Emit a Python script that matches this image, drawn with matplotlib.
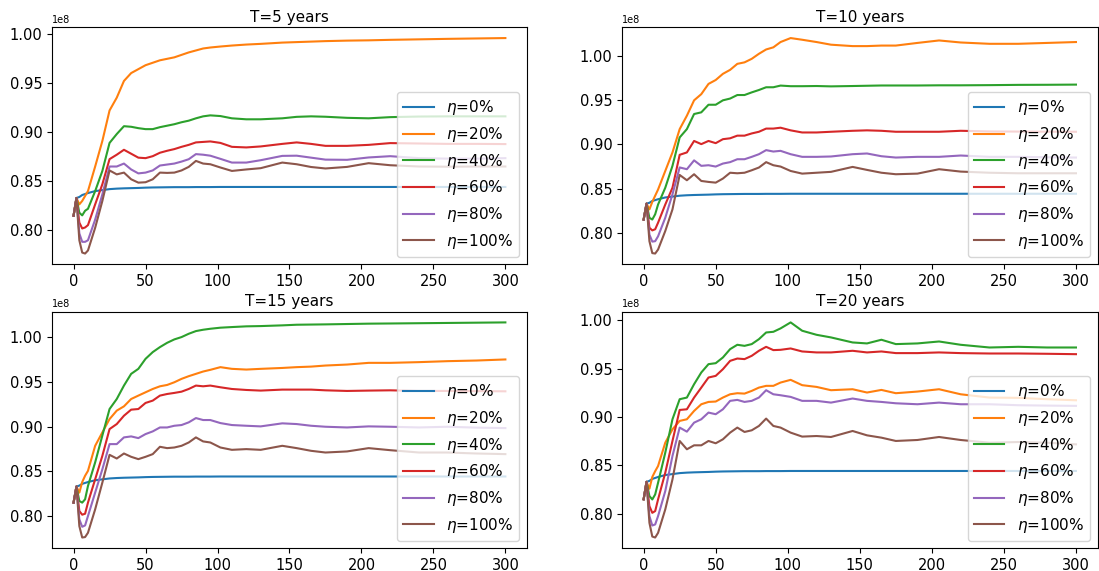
import matplotlib
matplotlib.use("Agg")
import matplotlib.pyplot as plt
import numpy as np

# time steps (shared by all panels)
steps = [0, 2, 4, 6, 8, 10, 15, 20, 25, 30, 35, 40, 45, 50, 55, 60, 65, 70, 75, 80,
         85, 90, 95, 102, 110, 120, 130, 145, 155, 165, 175, 190, 205, 220, 240, 260, 280, 300]

labels = [r'$\eta$=0%', r'$\eta$=20%', r'$\eta$=40%', r'$\eta$=60%', r'$\eta$=80%', r'$\eta$=100%']
titles = ['T=5 years', 'T=10 years', 'T=15 years', 'T=20 years']

# eta=0% is the same in every panel (values in units of 1e8)
eta0 = [.815, .833, .834, .836, .837, .838, .840, .841, .842, .8425, .8428, .843, .8432, .8435, .8437, .8438,
        .8439, .844, .844, .844, .8441, .8441, .8441, .8442, .8442, .8442, .8442, .8442, .8442, .8442, .8442,
        .8442, .8442, .8442, .8442, .8442, .8442, .8442]

# T=5 years
t5_eta20 = [.815, .833, .8265, .830, .835, .840, .865, .891, .922, .935, .952, .960, .964, .968, .9705, .973,
            .9745, .976, .9785, .981, .983, .985, .986, .987, .988, .989, .9897, .991, .9915, .992, .9925,
            .993, .9933, .9938, .9943, .9948, .9952, .9956]
t5_eta40 = [.815, .833, .818, .8153, .820, .822, .840, .8605, .889, .898, .906, .9054, .904, .903, .903, .905,
            .9065, .908, .910, .9116, .914, .916, .917, .9163, .914, .913, .913, .914, .9155, .916, .9156,
            .9145, .914, .9152, .9158, .916, .916, .916]
t5_eta60 = [.815, .833, .808, .802, .803, .8054, .8265, .847, .8725, .877, .882, .878, .874, .8735, .8755, .879,
            .881, .8827, .885, .887, .8895, .890, .8905, .889, .885, .8844, .8854, .888, .8895, .888, .886,
            .886, .887, .8888, .8884, .888, .888, .8878]
t5_eta80 = [.815, .833, .797, .7884, .7884, .790, .811, .8367, .865, .865, .868, .862, .858, .8588, .861, .866,
            .867, .868, .870, .8724, .8776, .877, .876, .8728, .869, .869, .8714, .8758, .876, .874, .872,
            .8718, .8742, .8755, .8735, .873, .873, .8735]
t5_eta100 = [.815, .833, .790, .7775, .7765, .7796, .8027, .830, .861, .857, .8588, .852, .8486, .849, .852,
             .8588, .8585, .8588, .861, .8646, .8707, .868, .8673, .864, .8605, .862, .8633, .869, .8673, .8645,
             .863, .8646, .8684, .8663, .865, .8648, .865, .865]

# T=10 years
t10_eta20 = [.815, .833, .8265, .835, .842, .849, .870, .891, .9174, .9326, .950, .957, .9686, .973, .980, .9845,
             .9913, .993, .997, 1.0027, 1.0076, 1.010, 1.016, 1.0205, 1.0186, 1.016, 1.013, 1.0114, 1.0114, 1.012,
             1.012, 1.015, 1.0178, 1.0155, 1.014, 1.014, 1.015, 1.016]
t10_eta40 = [.815, .833, .817, .815, .821, .832, .851, .8758, .908, .9174, .9345, .9364, .945, .945, .950, .952,
             .956, .956, .959, .9617, .9648, .9648, .9667, .966, .966, .9662, .9658, .9662, .9665, .9668, .9668,
             .9668, .967, .967, .9672, .9675, .9676, .9678]
t10_eta60 = [.815, .833, .8057, .8027, .804, .8114, .832, .851, .8883, .891, .904, .9004, .904, .9015, .906, .907,
             .910, .910, .9125, .9144, .918, .918, .919, .916, .9136, .9136, .9144, .9155, .916, .9155, .9144,
             .9144, .9144, .9155, .9148, .9146, .9145, .9144]
t10_eta80 = [.815, .833, .798, .790, .7905, .796, .817, .8436, .874, .872, .882, .8758, .8765, .875, .8784, .880,
             .8833, .8833, .886, .889, .8936, .892, .8928, .889, .886, .886, .8864, .889, .8898, .8867, .8852,
             .886, .886, .8875, .886, .886, .8855, .8852]
t10_eta100 = [.815, .833, .7905, .777, .7765, .781, .802, .8265, .8655, .8595, .8663, .8587, .8576, .8568, .8614,
              .868, .8674, .868, .8708, .8739, .880, .8765, .875, .870, .867, .868, .869, .8746, .8712, .868,
              .8663, .867, .872, .8693, .868, .8674, .8674, .8674]

# T=15 years
t15_eta20 = [.815, .833, .8262, .838, .845, .8505, .8785, .8935, .9084, .9178, .9226, .9308, .9346, .9383, .942,
             .945, .9465, .9495, .9533, .9563, .9589, .9615, .9634, .9664, .9645, .9637, .9645, .9655, .9664,
             .967, .9682, .9693, .9712, .9712, .972, .9731, .9738, .975]
t15_eta40 = [.815, .833, .8168, .815, .8187, .8336, .860, .890, .9196, .9308, .9458, .9589, .9645, .9757, .9832,
             .9888, .9936, .9974, 1.000, 1.0037, 1.0067, 1.0082, 1.0093, 1.0105, 1.0112, 1.012, 1.0123, 1.0131,
             1.0138, 1.014, 1.0142, 1.0146, 1.015, 1.0152, 1.0155, 1.0158, 1.0161, 1.0164]
t15_eta60 = [.815, .833, .8056, .8015, .8026, .815, .8411, .8673, .8972, .9028, .9121, .9189, .9196, .9264, .929,
             .9346, .9364, .9376, .939, .942, .9458, .945, .9458, .9439, .942, .9409, .9402, .9413, .9413, .9413,
             .9405, .9398, .9402, .9405, .9398, .9398, .9396, .9394]
t15_eta80 = [.815, .833, .7963, .788, .7895, .800, .8262, .8523, .8804, .8804, .8879, .889, .8871, .8916, .8946,
             .899, .899, .9009, .9017, .9047, .9095, .9073, .9073, .9039, .9017, .9009, .9002, .9036, .9028, .9009,
             .8998, .899, .9002, .8998, .899, .8998, .8988, .8983]
t15_eta100 = [.815, .833, .7888, .776, .7765, .7813, .8075, .8374, .8684, .8643, .8699, .8662, .8636, .8662, .8692,
              .8774, .8759, .8766, .8785, .8822, .8879, .8834, .8822, .8766, .874, .8748, .874, .8785, .8759, .8729,
              .871, .8722, .8759, .8736, .871, .871, .8699, .8692]

# T=20 years
t20_eta20 = [.815, .833, .8259, .838, .844, .8493, .8734, .8872, .8959, .8976, .9062, .9131, .9155, .9159, .920,
             .9234, .9245, .9241, .9269, .9303, .9321, .9321, .9355, .9383, .9328, .931, .9276, .9286, .9252, .9279,
             .9245, .9262, .9286, .9234, .920, .9197, .9183, .9172]
t20_eta40 = [.815, .833, .8183, .8148, .820, .832, .8631, .8976, .9183, .920, .9338, .9459, .9545, .9555, .9614,
             .970, .9745, .9734, .9752, .9803, .9872, .9879, .9914, .9976, .989, .9848, .9821, .9769, .9759, .9797,
             .9752, .9759, .9779, .9745, .9717, .9724, .9717, .9717]
t20_eta60 = [.815, .833, .8079, .801, .8028, .8148, .8424, .8752, .9072, .9079, .920, .9303, .9407, .9424, .9493,
             .9579, .9603, .9597, .9631, .9683, .9724, .969, .9693, .9707, .9676, .9666, .9666, .9683, .9666, .9676,
             .9659, .9659, .9666, .9659, .9655, .9655, .9652, .9648]
t20_eta80 = [.815, .833, .7976, .7879, .789, .7976, .8234, .8597, .889, .8848, .8941, .8976, .9045, .9028, .9079,
             .9166, .9176, .9155, .9166, .920, .9276, .9234, .9224, .9207, .9166, .9166, .9148, .919, .9166, .9155,
             .9141, .9131, .9148, .9131, .9131, .9121, .9117, .9114]
t20_eta100 = [.815, .833, .7907, .7765, .7755, .7803, .8045, .8355, .8752, .8666, .8707, .8707, .8752, .8728, .8769,
              .8838, .889, .8845, .8862, .8907, .8983, .8907, .889, .8838, .8797, .8803, .8793, .8855, .881, .8786,
              .8752, .8762, .8793, .8762, .8734, .8741, .8734, .8717]

panels = [
    [eta0, t5_eta20, t5_eta40, t5_eta60, t5_eta80, t5_eta100],
    [eta0, t10_eta20, t10_eta40, t10_eta60, t10_eta80, t10_eta100],
    [eta0, t15_eta20, t15_eta40, t15_eta60, t15_eta80, t15_eta100],
    [eta0, t20_eta20, t20_eta40, t20_eta60, t20_eta80, t20_eta100],
]

fig = plt.figure(figsize=(10.99, 5.71), dpi=100)
boxes = [[0.0473, 0.5371, 0.4322, 0.4151],
         [0.5660, 0.5371, 0.4327, 0.4151],
         [0.0473, 0.0398, 0.4322, 0.4144],
         [0.5660, 0.0398, 0.4327, 0.4144]]

for box, title, series in zip(boxes, titles, panels):
    ax = fig.add_axes(box)
    for vals, lab in zip(series, labels):
        ax.plot(steps, np.array(vals) * 1e8, label=lab, lw=1.5)
    ax.set_title(title, fontsize=11, pad=4)
    ax.tick_params(labelsize=10.5)
    ax.yaxis.get_offset_text().set_fontsize(7)
    ax.set_xticks([0, 50, 100, 150, 200, 250, 300])
    ax.legend(loc='lower right', fontsize=11)

fig.savefig('out.png', dpi=100)
